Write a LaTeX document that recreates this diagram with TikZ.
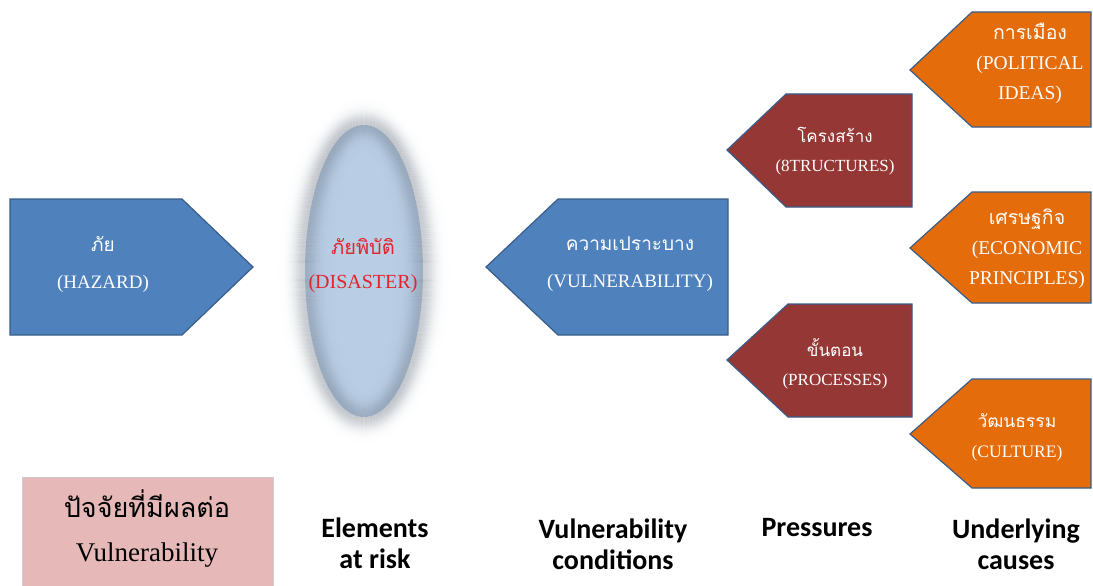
\documentclass[tikz,border=0pt]{standalone}
\usepackage{fontspec}
\setmainfont{Liberation Serif}
\newfontfamily\thaifont[Script=Thai]{Loma}
\newfontfamily\calfont{Carlito}
\definecolor{hazblue}{HTML}{4F81BD}
\definecolor{edgeblue}{HTML}{385D8A}
\definecolor{pressred}{HTML}{953735}
\definecolor{causeorange}{HTML}{E46C0A}
\definecolor{pinkbox}{HTML}{E6B9B8}
\definecolor{ellblue}{HTML}{B9CDE5}
\definecolor{blurgray}{HTML}{6E7A88}
\definecolor{disred}{HTML}{E3242B}
\begin{document}
\begin{tikzpicture}[x=1pt,y=-1pt,
  shapebox/.style={draw=edgeblue, line width=1.2pt, line join=miter},
  bluebox/.style={shapebox, fill=hazblue},
  redbox/.style={shapebox, fill=pressred},
  orangebox/.style={shapebox, fill=causeorange},
  intext/.style={text=white, align=center, inner sep=0pt},
  bluetext/.style={intext, font=\fontsize{19}{37}\selectfont},
  redtext/.style={intext, font=\fontsize{17}{29}\selectfont},
  orangetext/.style={intext, font=\fontsize{19.5}{30}\selectfont},
  bottomlabel/.style={align=center, inner sep=0pt, anchor=base, font=\calfont\bfseries\fontsize{28}{31}\selectfont}
]
\useasboundingbox (0,0) rectangle (1093,586);

% disaster ellipse (blurred)
\fill[ellblue] (364,271) ellipse [x radius=59, y radius=146];
\foreach \d in {-30,...,30}{
  \pgfmathsetmacro\op{0.3*exp(-(\d*\d)/140)}
  \draw[blurgray, line width=1.3pt, opacity=\op] (364,271) ellipse [x radius=59+\d, y radius=146+\d];
}
\node[intext, text=disred, font=\fontsize{20}{34}\selectfont] (disaster) at (363,266) {{\thaifont ภัยพิบัติ}\\(DISASTER)};

% hazard
\draw[bluebox] (10,199) -- (182,199) -- (253,267) -- (182,335) -- (10,335) -- cycle;
\node[bluetext] (hazard) at (103,264) {{\thaifont ภัย}\\(HAZARD)};

% vulnerability
\draw[bluebox] (486,267) -- (558,199) -- (728,199) -- (728,335) -- (558,335) -- cycle;
\node[bluetext] (vuln) at (630,264) {{\thaifont ความเปราะบาง}\\(VULNERABILITY)};

% pressures
\draw[redbox] (727,150) -- (786,94) -- (912,94) -- (912,207) -- (786,207) -- cycle;
\node[redtext] (structures) at (835,151) {{\thaifont โครงสร้าง}\\(8TRUCTURES)};
\draw[redbox] (727,360) -- (788,304) -- (912,304) -- (912,417) -- (788,417) -- cycle;
\node[redtext] (processes) at (835,364) {{\thaifont ขั้นตอน}\\(PROCESSES)};

% underlying causes
\draw[orangebox] (910,70) -- (972,12) -- (1091,12) -- (1091,127) -- (972,127) -- cycle;
\node[orangetext] (political) at (1030,63) {{\thaifont การเมือง}\\(POLITICAL\\IDEAS)};
\draw[orangebox] (910,248) -- (972,192) -- (1091,192) -- (1091,303) -- (972,303) -- cycle;
\node[orangetext] (economic) at (1027,249) {{\thaifont เศรษฐกิจ}\\(ECONOMIC\\PRINCIPLES)};
\draw[orangebox] (910,434) -- (972,379) -- (1091,379) -- (1091,488) -- (972,488) -- cycle;
\node[redtext, font=\fontsize{17.5}{30}\selectfont] (culture) at (1017,437) {{\thaifont วัฒนธรรม}\\(CULTURE)};

% pink legend box
\fill[pinkbox, draw=black!20, line width=0.6pt] (22,477) rectangle (273,590);
\node[align=center, inner sep=0pt, anchor=base, font=\fontsize{27}{44}\selectfont] (factors) at (147,561) {{\thaifont ปัจจัยที่มีผลต่อ}\\Vulnerability};

% bottom labels
\node[bottomlabel] (elements) at (375,568) {Elements\\at risk};
\node[bottomlabel] (vulncond) at (613,569) {Vulnerability\\conditions};
\node[bottomlabel] (pressures) at (817,536) {Pressures};
\node[bottomlabel] (underlying) at (1016,569) {Underlying\\causes};
\end{tikzpicture}
\end{document}
